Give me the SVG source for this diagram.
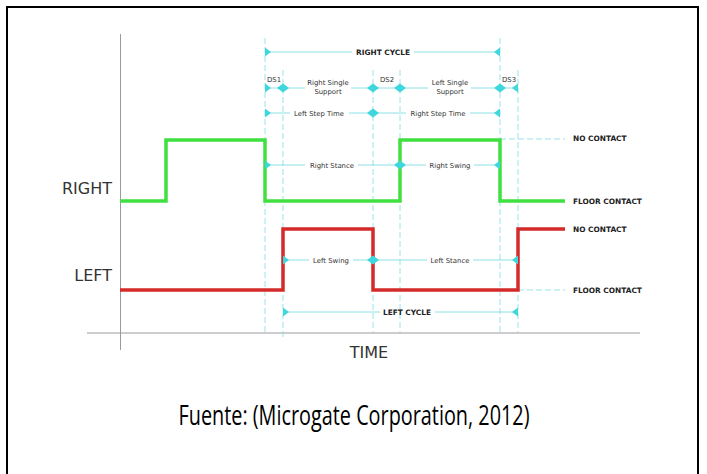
<svg xmlns="http://www.w3.org/2000/svg" width="707" height="474" viewBox="0 0 707 474">
<style>
.ext{stroke:#7fdde3;stroke-width:0.8;stroke-dasharray:6,3;fill:none}
.dim{stroke:#6fd9e0;stroke-width:0.8;fill:none}
.axis{stroke:#9a9a9a;stroke-width:1;fill:none}
.sm{font-family:"DejaVu Sans",Verdana,sans-serif;font-size:6.9px;fill:#333;text-anchor:middle}
.bd{font-family:"DejaVu Sans",Verdana,sans-serif;font-size:7.4px;font-weight:bold;fill:#222}
.big{font-family:"DejaVu Sans",Verdana,sans-serif;font-size:16px;fill:#333}
</style>
<defs>
<marker id="ar" viewBox="-7 -5 8 10" refX="0" refY="0" markerWidth="8" markerHeight="10" markerUnits="userSpaceOnUse" orient="auto-start-reverse">
<path d="M0,-4.5 L-6,0 L0,4.5 Z" fill="#3fd7de"/>
</marker>
</defs>
<rect x="7" y="7" width="691" height="480" fill="#fff" stroke="#000" stroke-width="2"/>

<g id="axes">
<line class="axis" x1="120.5" y1="34" x2="120.5" y2="350"/>
<line class="axis" x1="87" y1="333" x2="640" y2="333"/>
<text class="big" x="369" y="358" text-anchor="middle" font-size="15">TIME</text>
</g>

<g id="extension-lines">
<line class="ext" x1="265" y1="38" x2="265" y2="332"/>
<line class="ext" x1="283" y1="70" x2="283" y2="340"/>
<line class="ext" x1="373" y1="70" x2="373" y2="332"/>
<line class="ext" x1="400" y1="70" x2="400" y2="332"/>
<line class="ext" x1="500" y1="38" x2="500" y2="332"/>
<line class="ext" x1="518" y1="70" x2="518" y2="332"/>
<line class="ext" x1="500" y1="139" x2="565" y2="139"/>
<line class="ext" x1="518" y1="290" x2="565" y2="290"/>
</g>

<g id="right-signal">
<path d="M120,201 H166 V140 H265 V201 H400 V140 H500 V201 H565" fill="none" stroke="#3fe03f" stroke-width="3.5"/>
<text class="big" x="112" y="194" text-anchor="end">RIGHT</text>
<text class="bd" x="573" y="141">NO CONTACT</text>
<text class="bd" x="573" y="204">FLOOR CONTACT</text>
</g>

<g id="left-signal">
<path d="M120,290 H283 V229 H373 V290 H518 V229 H565" fill="none" stroke="#d42a2a" stroke-width="3.5"/>
<text class="big" x="112" y="281" text-anchor="end">LEFT</text>
<text class="bd" x="573" y="232">NO CONTACT</text>
<text class="bd" x="573" y="293">FLOOR CONTACT</text>
</g>

<g id="connectors">
<line class="dim" x1="265" y1="52" x2="352" y2="52" marker-start="url(#ar)"/>
<line class="dim" x1="414" y1="52" x2="500" y2="52" marker-end="url(#ar)"/>
<line class="dim" x1="265" y1="88" x2="283" y2="88" marker-start="url(#ar)" marker-end="url(#ar)"/>
<line class="dim" x1="283" y1="88" x2="305" y2="88" marker-start="url(#ar)"/>
<line class="dim" x1="351" y1="88" x2="373" y2="88" marker-end="url(#ar)"/>
<line class="dim" x1="373" y1="88" x2="400" y2="88" marker-start="url(#ar)" marker-end="url(#ar)"/>
<line class="dim" x1="400" y1="88" x2="428" y2="88" marker-start="url(#ar)"/>
<line class="dim" x1="471" y1="88" x2="500" y2="88" marker-end="url(#ar)"/>
<line class="dim" x1="500" y1="88" x2="518" y2="88" marker-start="url(#ar)" marker-end="url(#ar)"/>
<line class="dim" x1="265" y1="113" x2="290" y2="113" marker-start="url(#ar)"/>
<line class="dim" x1="349" y1="113" x2="373" y2="113" marker-end="url(#ar)"/>
<line class="dim" x1="373" y1="113" x2="406" y2="113" marker-start="url(#ar)"/>
<line class="dim" x1="470" y1="113" x2="500" y2="113" marker-end="url(#ar)"/>
<line class="dim" x1="265" y1="165" x2="305" y2="165" marker-start="url(#ar)"/>
<line class="dim" x1="358" y1="165" x2="400" y2="165" marker-end="url(#ar)"/>
<line class="dim" x1="400" y1="165" x2="426" y2="165" marker-start="url(#ar)"/>
<line class="dim" x1="474" y1="165" x2="500" y2="165" marker-end="url(#ar)"/>
<line class="dim" x1="283" y1="260" x2="309" y2="260" marker-start="url(#ar)"/>
<line class="dim" x1="353" y1="260" x2="373" y2="260" marker-end="url(#ar)"/>
<line class="dim" x1="373" y1="260" x2="427" y2="260" marker-start="url(#ar)"/>
<line class="dim" x1="473" y1="260" x2="518" y2="260" marker-end="url(#ar)"/>
<line class="dim" x1="283" y1="312" x2="380" y2="312" marker-start="url(#ar)"/>
<line class="dim" x1="435" y1="312" x2="518" y2="312" marker-end="url(#ar)"/>
</g>

<g id="labels">
<text class="bd" x="383" y="55" text-anchor="middle">RIGHT CYCLE</text>
<text class="sm" x="274" y="82">DS1</text>
<text class="sm" x="328" y="85">Right Single</text>
<text class="sm" x="328" y="94">Support</text>
<text class="sm" x="387" y="82">DS2</text>
<text class="sm" x="450" y="85">Left Single</text>
<text class="sm" x="450" y="94">Support</text>
<text class="sm" x="509" y="82">DS3</text>
<text class="sm" x="319" y="115.5">Left Step Time</text>
<text class="sm" x="438" y="115.5">Right Step Time</text>
<text class="sm" x="332" y="167.5">Right Stance</text>
<text class="sm" x="450" y="167.5">Right Swing</text>
<text class="sm" x="331" y="262.5">Left Swing</text>
<text class="sm" x="450" y="262.5">Left Stance</text>
<text class="bd" x="407" y="315" text-anchor="middle">LEFT CYCLE</text>
</g>

<g id="caption">
<text x="354" y="425" text-anchor="middle" font-family="'Liberation Sans Narrow','Open Sans',sans-serif" font-size="27" fill="#000" textLength="351" lengthAdjust="spacingAndGlyphs">Fuente: (Microgate Corporation, 2012)</text>
</g>
</svg>
